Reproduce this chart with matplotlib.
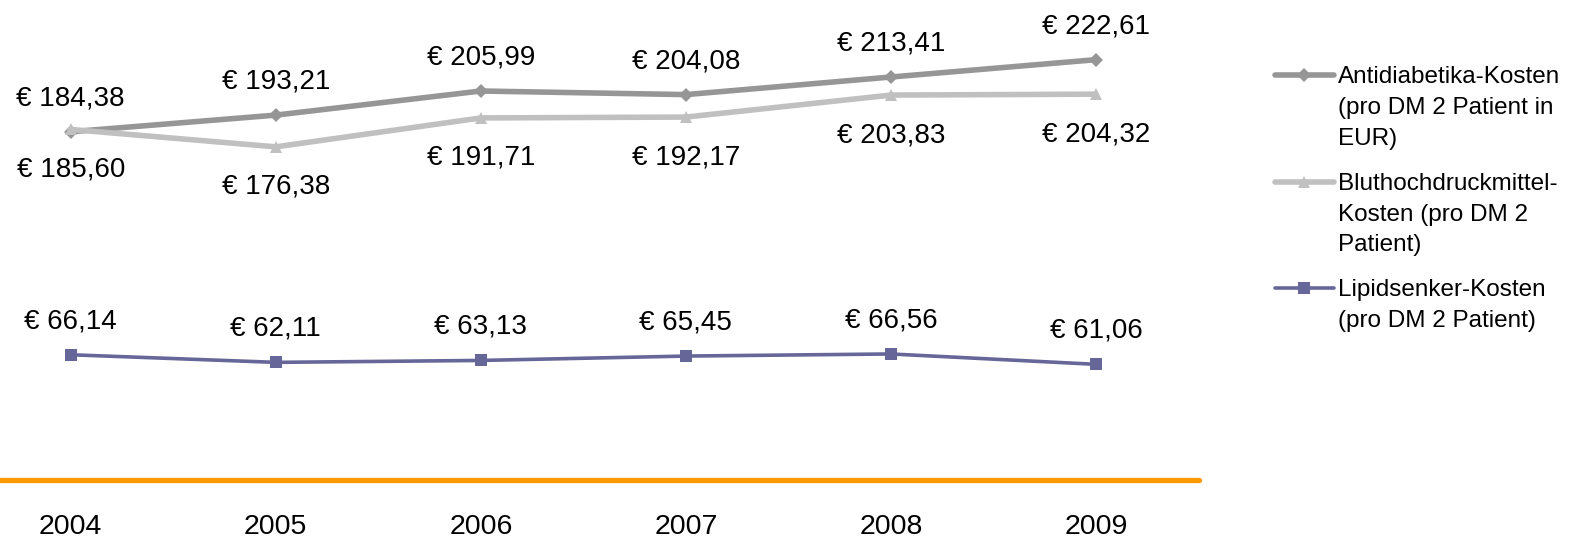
import matplotlib
matplotlib.use("Agg")
import matplotlib.pyplot as plt
from matplotlib.lines import Line2D

plt.rcParams['font.family'] = ['Liberation Sans', 'DejaVu Sans']

years = ["2004", "2005", "2006", "2007", "2008", "2009"]
antidiabetika = [184.38, 193.21, 205.99, 204.08, 213.41, 222.61]
bluthochdruck = [185.60, 176.38, 191.71, 192.17, 203.83, 204.32]
lipidsenker = [66.14, 62.11, 63.13, 65.45, 66.56, 61.06]

legend_labels = [
    "Antidiabetika-Kosten\n(pro DM 2 Patient in\nEUR)",
    "Bluthochdruckmittel-\nKosten (pro DM 2\nPatient)",
    "Lipidsenker-Kosten\n(pro DM 2 Patient)",
]

W, H = 1577, 538
fig = plt.figure(figsize=(W / 100, H / 100), dpi=100)
fig.patch.set_facecolor("white")

ax = fig.add_axes([-31.8 / W, 58.5 / H, 1230.4 / W, 471.5 / H])
ax.set_xlim(-0.5, 5.5)
ax.set_ylim(0, 250)
x = list(range(len(years)))

c_anti = "#969696"
c_blut = "#c0c0c0"
c_lip = "#666699"
c_orange = "#ff9900"

styles = [
    dict(color=c_anti, lw=4.0, marker="D", ms=7.0, mew=0),
    dict(color=c_blut, lw=4.0, marker="^", ms=9.0, mew=0),
    dict(color=c_lip, lw=2.6, marker="s", ms=8.5, mew=0),
]

ax.plot(x, antidiabetika, solid_capstyle="round", **styles[0], zorder=3)
ax.plot(x, bluthochdruck, solid_capstyle="round", **styles[1], zorder=4)
ax.plot(x, lipidsenker, solid_capstyle="round", **styles[2], zorder=3)

def fmt(v):
    return "€ " + f"{v:.2f}".replace(".", ",")

lab_fs = 20
for xi, v in zip(x, antidiabetika):
    ax.annotate(fmt(v), (xi, v), xytext=(0, 26.5), textcoords="offset pixels",
                ha="center", va="baseline", fontsize=lab_fs, color="black")
for xi, v in zip(x, bluthochdruck):
    ax.annotate(fmt(v), (xi, v), xytext=(0, -47), textcoords="offset pixels",
                ha="center", va="baseline", fontsize=lab_fs, color="black")
for xi, v in zip(x, lipidsenker):
    ax.annotate(fmt(v), (xi, v), xytext=(0, 26.5), textcoords="offset pixels",
                ha="center", va="baseline", fontsize=lab_fs, color="black")

for s in ["top", "left", "right"]:
    ax.spines[s].set_visible(False)
ax.spines["bottom"].set_color(c_orange)
ax.spines["bottom"].set_linewidth(3.8)
ax.spines["bottom"].set_capstyle("round")
ax.set_yticks([])
ax.set_xticks(x)
ax.set_xticklabels(years, fontsize=20.5)
ax.tick_params(axis="x", length=0, pad=25.0)
ax.patch.set_visible(False)

# legend (drawn manually so the handle aligns with the first text line)
leg_y = [75, 181.7, 288.3]
for (yy, lab, st) in zip(leg_y, legend_labels, styles):
    fy = 1 - yy / H
    fig.add_artist(Line2D([1275 / W, 1334 / W], [fy, fy], transform=fig.transFigure,
                          color=st["color"], lw=st["lw"], solid_capstyle="round"))
    fig.add_artist(Line2D([1304 / W], [fy], transform=fig.transFigure,
                          color=st["color"], marker=st["marker"],
                          ms=st["ms"], mew=0, lw=0))
    fig.text(1338 / W, 1 - (yy - 9.0) / H, lab, fontsize=17.5, ha="left",
             va="top", linespacing=1.52, color="black")

fig.savefig("out.png", dpi=100, facecolor="white")
